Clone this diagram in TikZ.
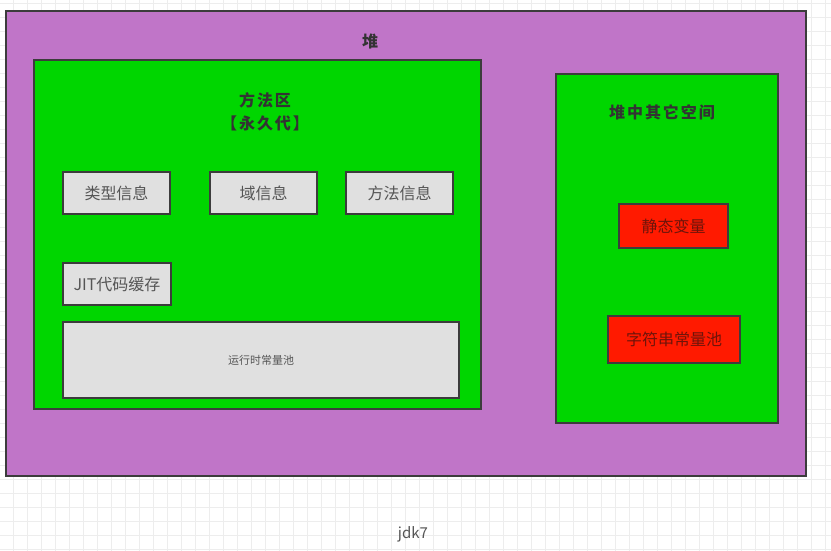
\documentclass[tikz,border=0pt]{standalone}
\usepackage{fontspec}
\setmainfont{Noto Sans CJK SC}
\usetikzlibrary{positioning}

\definecolor{heapPurple}{RGB}{192,117,200}
\definecolor{areaGreen}{RGB}{0,214,0}
\definecolor{infoGray}{RGB}{224,224,224}
\definecolor{poolRed}{RGB}{255,26,0}
\definecolor{lineDark}{RGB}{60,60,60}
\definecolor{textGray}{RGB}{85,85,85}
\definecolor{textRed}{RGB}{110,20,10}

\tikzset{
  area/.style={draw=lineDark,line width=1.2pt},
  infobox/.style={draw=lineDark,line width=1.2pt,fill=infoGray,inner sep=0pt,
    text=textGray,font=\fontsize{16}{18}\selectfont},
  redbox/.style={draw=lineDark,line width=1.2pt,fill=poolRed,inner sep=0pt,
    text=textRed,font=\fontsize{16}{18}\selectfont},
  title/.style={text=black!80,font=\fontsize{16}{23}\selectfont\bfseries\addfontfeatures{LetterSpace=12}},
}

\begin{document}
\begin{tikzpicture}[x=1pt,y=-1pt]
  \useasboundingbox (0,0) rectangle (831,551);
  \fill[white] (0,0) rectangle (831,551);
  % 网格背景
  \foreach \x in {13,27,...,831} {\draw[black!7,line width=0.5pt] (\x,0) -- (\x,551);}
  \foreach \y in {3,17,...,551} {\draw[black!7,line width=0.5pt] (0,\y) -- (831,\y);}
  % 堆
  \draw[area,fill=heapPurple] (6,11) rectangle (806,476);
  \node[title] (heap) at (370,41) {堆};
  % 方法区（永久代）
  \draw[area,fill=areaGreen] (34,60) rectangle (481,409);
  \node[title,align=center] (method) at (265,112) {方法区\\【永久代】};
  \node[infobox,minimum width=107,minimum height=42] (typeinfo) at (116.5,193) {类型信息};
  \node[infobox,minimum width=107,minimum height=42] (fieldinfo) at (263.5,193) {域信息};
  \node[infobox,minimum width=107,minimum height=42] (methodinfo) at (399.5,193) {方法信息};
  \node[infobox,minimum width=108,minimum height=42] (jit) at (117,284) {JIT代码缓存};
  \node[infobox,minimum width=396,minimum height=76,font=\fontsize{11}{13}\selectfont] (rtpool) at (261,360) {运行时常量池};
  % 堆中其它空间
  \draw[area,fill=areaGreen] (556,74) rectangle (778,423);
  \node[title] (other) at (662,112) {堆中其它空间};
  \node[redbox,minimum width=109,minimum height=44] (static) at (673.5,226) {静态变量};
  \node[redbox,minimum width=132,minimum height=47] (strpool) at (674,339.5) {字符串常量池};
  % 标注
  \node[text=textGray,font=\fontsize{15}{17}\selectfont] (jdk) at (413,534) {jdk7};
\end{tikzpicture}
\end{document}
